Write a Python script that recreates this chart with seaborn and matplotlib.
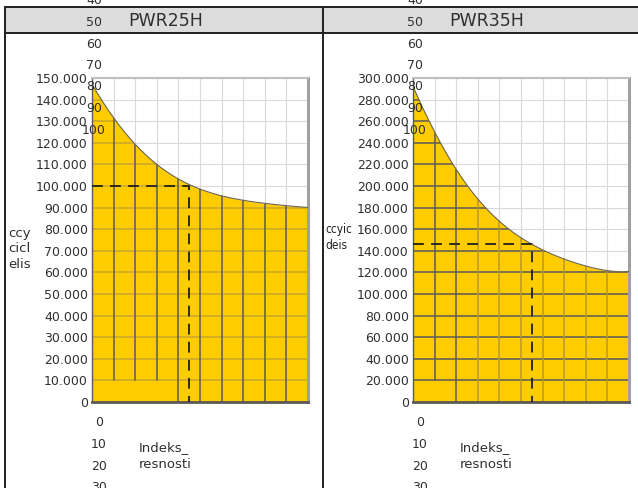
import numpy as np
import pandas as pd
import matplotlib
matplotlib.use("Agg")
import matplotlib.pyplot as plt
import seaborn as sns
from matplotlib.lines import Line2D
from matplotlib.patches import Rectangle
from matplotlib.ticker import FuncFormatter, MultipleLocator

sns.set_style("white")
plt.rcParams["font.family"] = ["DejaVu Sans"]

# data
idx = [0, 10, 20, 30, 40, 50, 60, 70, 80, 90, 100]
cycles_25 = [147000, 132000, 119000, 109700, 103700, 98600, 95400, 93200, 92000, 91000, 90000]
cycles_35 = [292000, 250300, 216400, 185500, 168500, 153000, 140700, 131500, 125900, 122200, 120700]
titles = ["PWR25H", "PWR35H"]
ylims = [150000, 300000]
ysteps = [10000, 20000]
marks = [(45, 100000), (55, 146000)]   # dashed read-off point
ylabels = ["ccy\ncicl\nelis", "ccyic\ndeis"]
xlabel = "Indeks_\nresnosti"
xtick_text = ["0", "10", "20", "30", "40", "50", "60", "70", "80", "90", "100"]

W, H = 638, 488
fig = plt.figure(figsize=(W / 100, H / 100), dpi=100)
fx = lambda px: px / W
fy = lambda py: 1 - py / H

DARK = "#5a5a5a"
MUTED = "#c9a630"

# panel frame + header
fig.add_artist(Rectangle((fx(5), fy(33)), fx(633), 26 / H, transform=fig.transFigure,
                         facecolor="#dcdcdc", edgecolor="none", zorder=0))
for (x0, y0, x1, y1) in [(5, 7, 638, 7), (5, 33, 638, 33), (5, 7, 5, 488), (323, 7, 323, 488)]:
    fig.add_artist(Line2D([fx(x0), fx(x1)], [fy(y0), fy(y1)], transform=fig.transFigure,
                          color="#202020", lw=1.4, zorder=1))

# how the grid looks inside the yellow area: {x: (colour, lowest y)}
vstyle_25 = {10: (DARK, 10000), 20: (DARK, 10000), 30: (DARK, 10000)}
vstyle_35 = {10: (DARK, 20000), 20: (DARK, 0)}
panels = [
    dict(df=pd.DataFrame({"x": idx, "y": cycles_25}), left=92, hcol=MUTED,
         vstyle=vstyle_25, vdefault=DARK),
    dict(df=pd.DataFrame({"x": idx, "y": cycles_35}), left=413, hcol=DARK,
         vstyle=vstyle_35, vdefault="#b8982c"),
]

for i, p in enumerate(panels):
    df = p["df"]
    left = p["left"]
    off = left - 92
    ax = fig.add_axes([fx(left), fy(402), 216 / W, 324 / H])
    ax.set_xlim(0, 100)
    ax.set_ylim(0, ylims[i])
    ax.xaxis.set_major_locator(MultipleLocator(10))
    ax.yaxis.set_major_locator(MultipleLocator(ysteps[i]))
    ax.grid(True, color="#d9d9d9", lw=0.8, zorder=0)
    ax.set_axisbelow(True)

    xs = np.linspace(0, 100, 201)
    coef = np.polyfit(df["x"], df["y"], 5)
    ys_s = np.polyval(coef, xs)
    fill = ax.fill_between(xs, 0, ys_s, color="#ffcc00", lw=0, zorder=1)
    sns.lineplot(x=xs, y=ys_s, ax=ax, color="#6e6550", lw=0.8, zorder=3)

    clip = fill.get_paths()[0]
    # grid lines inside the filled area
    for gy in range(ysteps[i], ylims[i], ysteps[i]):
        ln = ax.axhline(gy, color=p["hcol"], lw=1.1, zorder=2)
        ln.set_clip_path(clip, ax.transData)
    for gx in range(10, 100, 10):
        col, lo = p["vstyle"].get(gx, (p["vdefault"], 0))
        ln = ax.axvline(gx, ymin=lo / ylims[i], color=col, lw=1.1, zorder=2)
        ln.set_clip_path(clip, ax.transData)

    mx, my = marks[i]
    ax.plot([0, mx, mx], [my, my, 0], color="#202020", lw=1.3, dashes=(6, 4), zorder=4)

    ax.yaxis.set_major_formatter(FuncFormatter(lambda v, pos: f"{v:,.0f}".replace(",", ".")))
    ax.tick_params(axis="y", length=0, pad=3, labelsize=9, labelcolor="#303030")
    ax.tick_params(axis="x", length=0, labelbottom=False)
    ax.set_xlabel("")
    ax.set_ylabel("")
    for s in ["left", "bottom"]:
        ax.spines[s].set_color("#595959")
    ax.spines["left"].set_linewidth(1.0)
    ax.spines["bottom"].set_linewidth(2.0)
    ax.spines["top"].set_color("#bfbfbf")
    ax.spines["top"].set_linewidth(1.5)
    ax.spines["right"].set_color("#a0a0a0")
    ax.spines["right"].set_linewidth(2.2)

    # header
    fig.text(fx(166 + off), fy(21), titles[i], ha="center", va="center",
             fontsize=12.5, color="#303030")
    # stacked x tick labels (wrap around the panel)
    for k, t in enumerate(xtick_text):
        if k < 4:
            px, py = 99 + off, 423 + 21.5 * k
        else:
            px, py = 94 + off, 1 + 21.5 * (k - 4)
        fig.text(fx(px), fy(py), t, ha="center", va="center", fontsize=9, color="#303030", zorder=6)
    # axis titles
    fig.text(fx(139 + off), fy(456), xlabel, ha="left", va="center", fontsize=9.5,
             color="#303030", linespacing=1.3)

fig.text(fx(8), fy(249), ylabels[0], ha="left", va="center", fontsize=9.5,
         color="#303030", linespacing=1.25)
fig.text(fx(325), fy(238), ylabels[1], ha="left", va="center", fontsize=8.5,
         color="#202020", linespacing=1.3, fontstretch="condensed")

fig.savefig("out.png", dpi=100)
